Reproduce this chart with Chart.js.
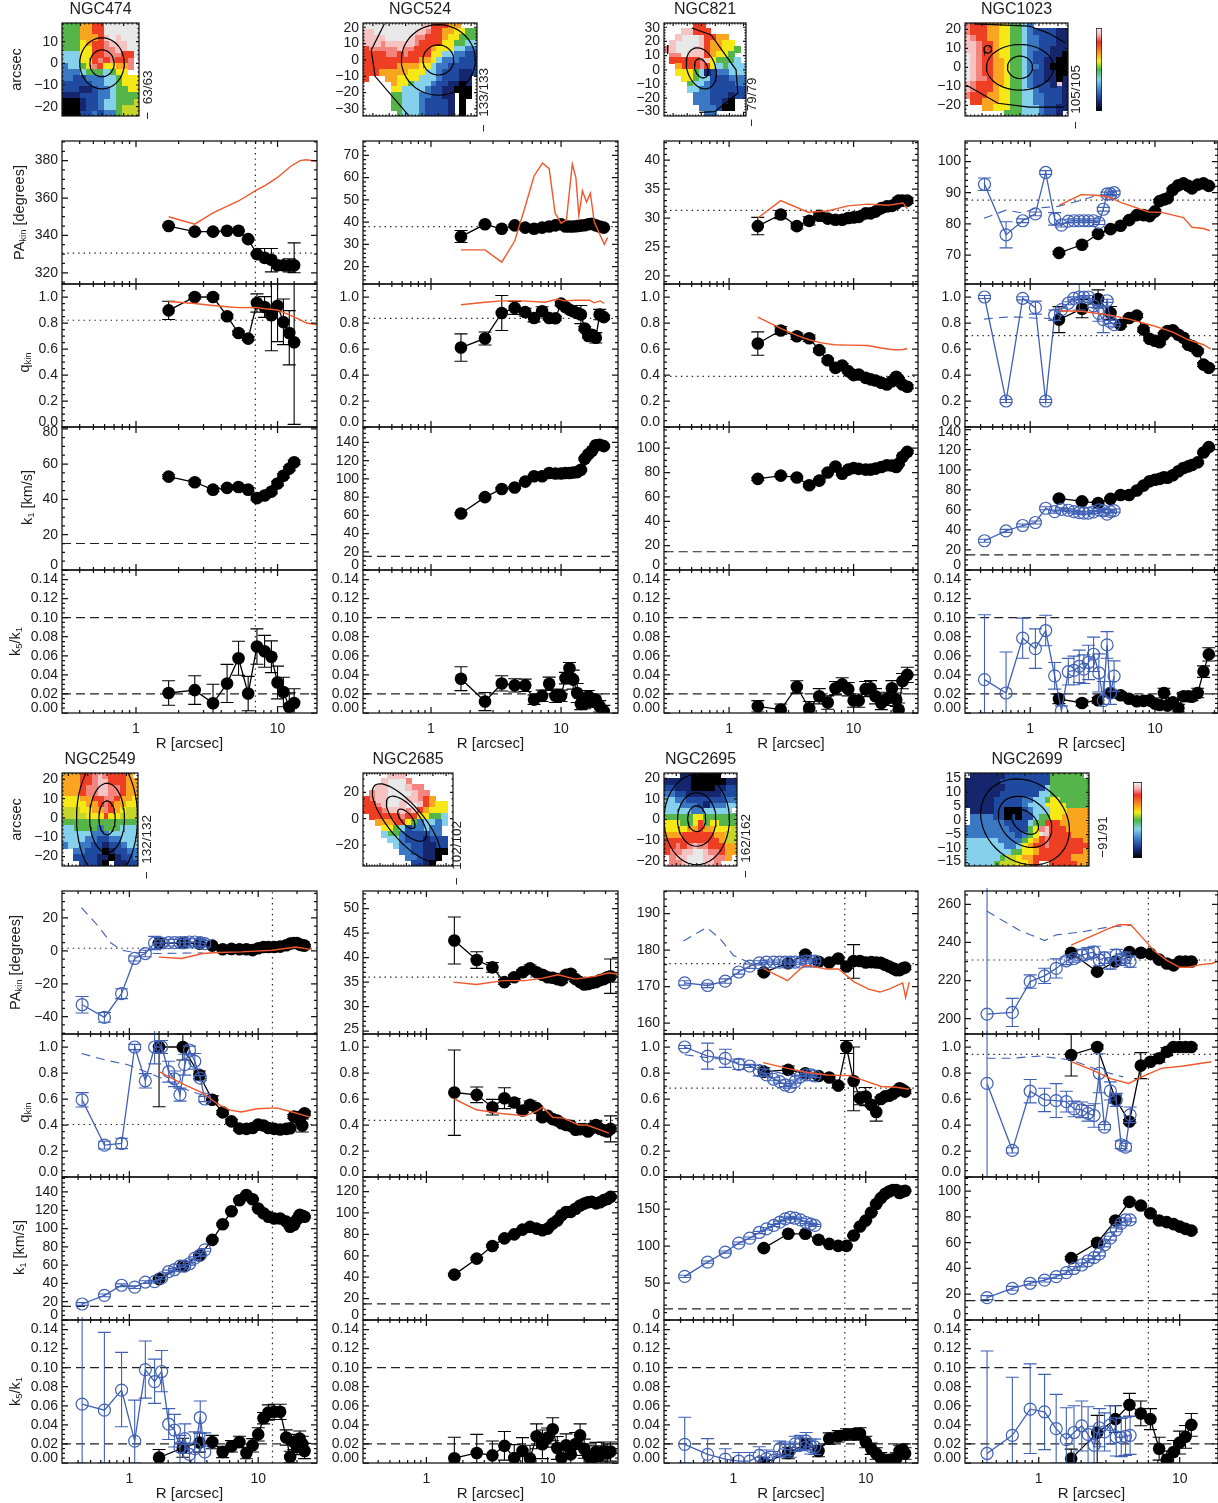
<!DOCTYPE html>
<html><head><meta charset="utf-8">
<style>html,body{margin:0;padding:0;background:#fff}#wrap{position:relative;width:1218px;height:1503px;overflow:hidden;background:#fff}canvas{position:absolute}</style>
<script src="https://cdn.jsdelivr.net/npm/chart.js@4"></script>
</head><body><div id="wrap"></div>
<script>
// ---------- radii ----------
const R474=[1.7,2.6,3.5,4.4,5.3,6.2,7.15,8.1,9.05,10,11,12.1,13.1];
const R524=[1.7,2.6,3.5,4.4,5.3,6.2,7.15,8.1,9.05,10,10.8,11.6,12.4,13.3,14.2,15.2,16.2,17.3,18.5,19.8,21.3];
const R821=[1.7,2.6,3.5,4.4,5.3,6.2,7.15,8.1,9.05,10,11,12.5,13.7,15,16.7,18.5,20.3,22,23,24.7,27];
const R1023=[1.7,2.6,3.5,4.4,5.3,6.2,7.15,8.1,9.05,10,10.9,11.8,12.6,13.9,15.4,16.9,18.5,19.8,22,24.5,27];
const O1023=[.43,.64,.87,1.1,1.33,1.57,1.78,2.02,2.24,2.47,2.69,2.93,3.22,3.55,3.85,4.13,4.4,4.7];
const R2549=[1.7,2.6,3.5,4.4,5.3,6.2,7.15,8.1,9.05,10,11,12,13.3,14.8,16.5,17.7,18.9,20,21,22,22.9];
const O2549=[.43,.64,.87,1.1,1.33,1.57,1.78,2.02,2.24,2.47,2.69,2.93,3.22,3.55,3.85];
const R2685=[1.7,2.6,3.5,4.4,5.3,6.2,7.15,8.1,9.05,10,11,12,13,14.2,15.5,17,18.5,20,21.5,23,25,27,29,31,33];
const R2695=[1.7,2.6,3.5,4.4,5.3,6.2,7.15,8.1,9.05,10,11,12,13,14,15,16,17,18,19,19.8];
const O2695=[.43,.64,.87,1.1,1.33,1.57,1.78,2.02,2.24,2.47,2.69,2.93,3.22,3.55,3.85,4.13];
const R2699=[1.7,2.6,3.5,4.4,5.3,6.2,7.15,8.1,9.05,10,11,12.1];
const O2699=[.43,.65,.87,1.1,1.33,1.57,1.78,2.02,2.24,2.47,2.69,2.93,3.22,3.55,3.85,4.13,4.45];

// ---------- NGC474 ----------
const PA474=[345,342,342,342.5,342.5,338,330,328,327,324,324,324,324];
const PA474e={7:[327,333],8:[320.5,333],11:[320.5,327.5],12:[320,336]};
const Q474=[.897,1,1,.852,.723,.68,.954,.923,.86,.932,.807,.723,.652];
const Q474e={0:.07,6:.07,7:.08,8:[.586,1.13],9:[.657,1.2],10:[.634,.985],11:[.478,.895],12:[.02,1.2]};
const K474=[52.9,49.7,45.5,46.5,47,45.5,40.7,42.2,44.4,49,53.4,57.4,61];
const F474=[.021,.024,.0102,.031,.0574,.0204,.0697,.0647,.059,.032,.022,.0063,.0105];
const F474e=[.0128,.015,.02,.02,.0178,.018,.0185,.0167,.0167,.0172,.0155,.015,.015];
const PA474fitR=[1.7,2.6,3.5,5.3,7,8.3,10,12.4,14.4,15.9,19];
const PA474fit=[350,346,352,358.4,364,367,371,377,380,380.5,379.7];
const Q474fitR=[1.7,2.6,3.5,4.4,5.3,7,8.1,10,12,14.4,16,19];
const Q474fit=[.965,.95,.935,.925,.918,.92,.91,.90,.865,.826,.80,.787];

// ---------- NGC524 ----------
const PA524=[33.5,39,37,38.5,37.5,37,37.5,38,38.5,39,38,38,38,38.2,38.4,38.6,39,39.2,38.5,38,37.5];
const PA524e={0:2.7};
const Q524=[.611,.681,.877,.916,.884,.839,.89,.839,.836,.949,.923,.903,.89,.877,.865,.758,.70,.71,.686,.865,.845];
const Q524e={0:.105,1:.05,2:.135,3:.05,4:.03,5:.03,6:.035,14:.07,18:.04,19:.04};
const K524=[62,80,89,90.5,97,103,103,106.5,106,106,106.5,106.5,107,107.5,110,122,127,131,137,137.5,136];
const F524=[.036,.012,.031,.029,.029,.014,.018,.0306,.018,.018,.0366,.047,.035,.021,.0095,.0105,.0176,.012,.014,.007,.002];
const F524e=[.0125,.0095,.008,.007,.0065,.005,.006,.007,.007,.006,.006,.006,.01,.01,.006,.006,.006,.006,.006,.006,.006];
const PA524fitR=[1.7,2.6,3.5,4.4,5.3,6.2,7.2,8.1,9,10,11,12.2,13,13.7,14.6,15.7,16.8,18,21.5,22.8];
const PA524fit=[27.5,27.5,22,31.5,47,60.7,66.5,64,44,39.5,41,66,60,43,54,49,53,40,30,33];
const Q524fitR=[1.7,2.6,3.5,5,7.5,9.5,10.5,13,16.5,18,20,21.5];
const Q524fit=[.94,.96,.97,.97,.96,.985,.97,.975,.975,.955,.97,.95];

// ---------- NGC821 ----------
const PA821=[28.6,30.6,28.6,29.5,30.4,29.9,29.7,29.7,30,30.1,30.2,30.8,30.8,31.1,31.7,32,32.1,32.5,33,33,33];
const PA821e={0:1.5,1:.7,2:.5,3:.7,4:.5};
const Q821=[.642,.742,.698,.683,.591,.514,.455,.473,.43,.399,.404,.378,.366,.358,.34,.327,.352,.386,.366,.327,.31];
const Q821e={0:.09,1:.03,2:.025,3:.025};
const K821=[74.8,77.5,76,69.6,73.4,80,85,79,82.4,83.7,83,82.4,82.4,83.2,84.5,86,85.7,84.5,87.3,93,97];
const F821=[.007,.0035,.0274,.005,.0176,.011,.026,.03,.025,.013,.013,.025,.026,.0176,.0105,.0148,.026,.014,.0035,.0334,.04];
const F821e=[.006,.006,.0065,.007,.008,.007,.007,.007,.007,.007,.007,.008,.008,.008,.007,.007,.008,.007,.007,.008,.008];
const PA821fitR=[1.7,2.6,4.3,6.2,9,13,19,25,27];
const PA821fit=[30,33,31,31.2,32.1,32.4,32.2,32.6,31.6];
const Q821fitR=[1.7,2.6,3.5,4.4,5.5,7,9,13,16.5,21,25,27];
const Q821fit=[.845,.758,.705,.671,.647,.633,.63,.627,.608,.594,.596,.604];

// ---------- NGC1023 ----------
const PA1023=[70.7,73.3,76.8,78.3,79.4,81.2,82.8,82.8,82.5,84,87.3,87.8,88.2,90.9,92.4,93,92.2,91.4,92.6,93,92.2];
const PA1023o=[92.7,76.5,81,83.2,96.5,81.6,79.6,80.9,81,81,81,81,81,80.4,84.7,89.6,89.6,90];
const PA1023oe={0:2,1:4.2,5:2};
const Q1023=[.826,.91,.985,.877,.787,.839,.857,.749,.678,.664,.652,.71,.739,.744,.71,.686,.633,.623,.584,.48,.455];
const Q1023e={0:.1,1:.07,2:.07,3:.05};
const Q1023o=[1,.2,.99,.918,.2,.86,.903,.952,.99,1,1,1,.932,.874,.826,.971,.807,.787];
const Q1023oe={3:.05,5:.04,9:.1,13:.06,14:.1};
const K1023=[71.4,68.5,66.8,71,74.8,74.8,79.4,84.3,88.6,90,90.9,92.6,92,94.6,98.6,101.8,103.4,104.8,107.4,117.3,122.6];
const K1023o=[29.2,39,44.4,47.4,61.6,58.3,60.5,59.6,58.3,57.3,56.7,56.7,58,60,59,55.7,58.3,59.3];
const F1023=[.0148,.0105,.0134,.021,.0186,.015,.0123,.0127,.0134,.0098,.0084,.021,.0077,.0113,.005,.0176,.0176,.017,.021,.0434,.0615];
const F1023e=[.005,.003,.003,.003,.003,.002,.002,.002,.002,.003,.003,.005,.003,.003,.004,.004,.004,.004,.005,.006,.007];
const F1023o=[.035,.021,.0785,.0675,.0865,.039,.0025,.0433,.0447,.049,.046,.053,.0616,.042,.013,.0714,.021,.0387];
const F1023oe=[[0,.103],[0,.064],.021,.0207,.016,.014,.005,.014,.015,.017,.015,.018,.018,.02,.02,.014,.012,.016];
const PA1023fitR=[1.7,2.56,3.45,4.4,5.3,8.9,11.3,16.9,19.8,24.5,27.5];
const PA1023fit=[85.9,89.4,89.2,88.4,86.9,83.8,83.7,82,78.9,78.5,77.8];
const PA1023dashR=[.425,.64,.87,1.1,1.33,1.57,1.7,2.56,3.45,4.7];
const PA1023dash=[81.8,84.4,83.5,85,85.3,85.5,85.7,87.6,89.2,89.7];
const Q1023fitR=[1.7,2.56,4.4,6.2,10,13.9,18.5,24.5,28];
const Q1023fit=[.894,.89,.86,.83,.775,.73,.671,.633,.60];
const Q1023dashR=[.425,.64,.87,1.1,1.33,1.57];
const Q1023dash=[.83,.845,.845,.836,.836,.826];

// ---------- NGC2549 ----------
const PA2549=[4.8,4.8,4.4,3.2,1,1.2,1,1,.5,1.6,2.4,2.4,2.4,2.6,3.4,4.4,4.8,4.8,3.8,3.4,3.2];
const PA2549o=[-32.7,-40.4,-26,-4.6,-1.6,4.8,4.8,5,5,5,5,5.4,5.4,5,4.4];
const PA2549oe=[5,3,3,1.5,2,4,2,2,2,2,2,2,2,2,2];
const Q2549=[1,1,.785,.594,.497,.428,.372,.37,.377,.404,.396,.377,.37,.365,.37,.375,.465,.46,.44,.396,.49];
const Q2549e={0:[.54,1.2],1:.1,2:.03,3:.03,19:.05};
const Q2549o=[.594,.245,.258,1,.74,1,1,.81,.755,.634,.864,.977,.89,.76,.60];
const Q2549oe=[.055,.03,.04,.02,.055,.13,.05,.08,.06,.05,.08,.03,.06,.02,.02];
const K2549=[44.7,59,70.5,87.6,104.7,119,131,136.7,132,122,116.7,113,111,111,107.6,102,104,110,115,114,113];
const K2549o=[17.5,27,38,36,41.5,42,46,53,55,59,59,61.5,67.6,71,76.7];
const F2549=[.0056,.016,.0214,.022,.0116,.0175,.022,.0105,.0186,.03,.047,.053,.0537,.0537,.0267,.0063,.022,.0168,.0256,.02,.0126];
const F2549e=[.0085,.01,.01,.007,.006,.006,.006,.006,.007,.007,.006,.008,.008,.008,.008,.006,.008,.008,.008,.008,.008];
const F2549o=[.0618,.0554,.0765,.023,.098,.0853,.096,.0407,.0344,.0168,.0256,.009,.015,.0477,.0116];
const F2549oe=[[0,.2],[0,.137],[.038,.116],[0,.066],[.068,.128],[.0625,.109],[.0747,.118],[.0246,.057],[.0168,.051],[0,.029],[.01,.041],.012,[0,.0326],[.031,.065],.02];
const PA2549fitR=[1.69,2.54,3.7,4.9,7.4,12.9,19.6,25.9];
const PA2549fit=[-3.8,-4.6,-1.6,-1,-.6,.4,2.4,.8];
const PA2549dashR=[.425,.565,.72,.876,.99,1.6,3.7];
const PA2549dash=[26.3,15.6,4.8,.4,-.4,-1.6,-1.2];
const Q2549fitR=[1.69,2.54,3.7,4.9,6.02,7.4,9.8,13.9,18.3,25];
const Q2549fit=[.813,.72,.647,.558,.514,.50,.525,.532,.50,.463];
const Q2549dashR=[.425,.65,.96,1.34,1.78,2.6,3.7];
const Q2549dash=[.95,.9,.865,.81,.76,.68,.63];

// ---------- NGC2685 ----------
const PA2685=[43.5,39.5,38,35,36,37,37.8,37,36.5,36,35.9,35.6,35.4,36.5,36.7,35.6,35,34.5,34.6,34.8,35,35.4,35.6,36,36.2];
const PA2685e={0:4.8,1:1.7,2:1,6:.7,24:3.5};
const Q2685=[.65,.632,.537,.606,.573,.511,.555,.53,.46,.47,.445,.435,.414,.40,.394,.363,.368,.368,.35,.375,.40,.37,.36,.35,.37];
const Q2685e={0:[.32,.977],1:.06,2:.06,3:.08,4:.03,6:.03,20:.03,24:.1};
const K2685=[42.4,57.3,69.2,76.3,80,84.4,87,85.4,83.9,85.4,90,93,97.8,100.9,101,104,107,108.7,110,110.5,109,110,112,113,115];
const F2685=[.005,.0105,.008,.018,.0053,.0126,.0046,.028,.0196,.0267,.0354,.0158,.0053,.0186,.009,.02,.029,.015,.008,.001,.0116,.008,.012,.01,.012];
const F2685e=[[0,.027],[0,.03],.015,.015,.014,.014,.014,.013,.015,.01,.012,.012,.012,.012,.012,.012,.012,.01,.01,.01,.01,.01,.01,.01,.01];
const PA2685fitR=[1.67,2.58,4.33,6.5,9.1,12.2,17,24.6,32,38];
const PA2685fit=[35,34.5,35.3,35.3,35.8,36.5,35.6,36.2,36.9,36.6];
const Q2685fitR=[1.7,2.58,4.33,6.5,8,9.1,11,13.5,18,21,32];
const Q2685fit=[.6,.517,.486,.47,.504,.537,.46,.453,.40,.40,.337];

// ---------- NGC2695 ----------
const PA2695=[173.9,176.4,178.8,176.8,176.6,177.7,175.5,177,177,176.6,176.7,176.6,176.5,176,175.5,175,174.5,174.5,175,175.2];
const PA2695e={7:[172.3,181.5]};
const PA2695o=[171,170.3,171.5,174,175.6,176.5,176.7,176.7,176.7,176.7,176.7,176.7,176.7,177,177,177];
const Q2695=[.81,.824,.798,.777,.765,.703,1,.739,.606,.619,.555,.50,.60,.62,.625,.64,.66,.683,.67,.657];
const Q2695e={0:.03,1:.03,6:.05,7:[.51,1],8:.05,9:.07,11:.07};
const Q2695o=[1,.93,.913,.867,.854,.818,.785,.752,.734,.708,.696,.734,.772,.785,.785,.777];
const Q2695oe={1:.1,2:.07,3:.04,5:.04};
const K2695=[97.3,116.7,116.7,108.6,103,100.4,100.4,114.4,126.6,134.7,145.5,157,165,170.7,174,176,176,172,174,175];
const K2695o=[59,78.4,92,104,110.8,118.5,123.4,128,132.4,137,139,137.8,135.6,132,129.7,128];
const F2695=[0,.0105,.02,.0126,.0256,.028,.03,.03,.031,.022,.015,.01,.005,.003,.002,.003,.0046,.0126,.014,.01];
const F2695o=[.0196,.009,.004,.002,.002,.008,.0046,.003,.015,.014,.014,.02,.021,.023,.0175,.017];
const F2695oe=[[0,.048],[0,.0256],.011,.009,.009,.009,.009,.009,.008,.008,.008,.008,.008,.009,.008,.008];
const PA2695fitR=[1.68,2.57,3.45,5.1,6.24,8.17,10.5,12.8,15,19,20,21.3];
const PA2695fit=[175,171.6,175.9,174.8,174.8,171.3,169.3,168.5,169.3,171,167,171.2];
const PA2695dashR=[.42,.63,.8,1,1.33,1.7,3];
const PA2695dash=[182.5,186.2,183,178.6,176.5,176,176.3];
const Q2695fitR=[1.68,2.57,3.4,5.1,7.6,9.4,13.1,17.1,21.3];
const Q2695fit=[.88,.836,.81,.785,.78,.747,.696,.69,.675];
const Q2695dashR=[.43,.9,1.7,3];
const Q2695dash=[.94,.9,.83,.77];

// ---------- NGC2699 ----------
const PA2699=[234.6,224.7,230,235,234.6,234,231,229,228,230,230,230];
const PA2699o=[202.4,203.3,219.5,222.5,226.4,230.4,231.6,233.4,234.3,235,230.8,232,229,233.4,231,232,230];
const PA2699oe=[[150,300],7.4,3.5,4,5,2,2,3,3,3,3,3,3,3,3,3,3];
const Q2699=[.939,1,.6,.427,.857,.887,.913,.964,1,1,1,1];
const Q2699e={0:[.777,1.1],2:.03,4:.1,6:.03,7:.03};
const Q2699o=[.72,.205,.66,.593,.588,.58,.524,.517,.49,.473,.798,.384,.662,.593,.248,.23,.478];
const Q2699oe=[[0,1.3],.02,.09,.09,.13,.08,.06,.06,.06,.09,.15,.02,.07,.05,.03,.03,.06];
const K2699=[48,60,77.2,91.7,88.9,82.9,77.2,76,74.4,72.5,70.7,69.4];
const K2699o=[17.4,24.6,28.5,31,33.7,36.8,40,42.7,46,48.4,51.3,58.3,63.5,70,75,77.7,77.7];
const F2699=[.0046,.0316,.046,.061,.052,.046,.015,.0035,.0116,.0214,.0274,.04];
const F2699e=[.01,[0,.05],.014,.012,.013,.011,.012,.009,.012,.012,.012,.012];
const F2699o=[.01,.029,.0565,.0537,.036,.0245,.032,.039,.03,.0186,.037,.0326,.04,.0274,.0267,.028,.029];
const F2699oe=[[0,.1175],[0,.09],[.01,.104],[.014,.093],[0,.072],[0,.058],[0,.06],[.0126,.065],[0,.059],.02,.02,.02,.02,.02,.02,.02,.02];
const PA2699fitR=[1.7,3.07,3.7,4.5,5.4,6.55,8.1,10,11.6,14,17,18.7];
const PA2699fit=[238.6,247,249.3,249.3,242.8,235.8,230.6,227,227,228.4,229,230.4];
const PA2699dashR=[.427,.73,1.1,1.33,2.02,3.07,4.5];
const PA2699dash=[256.5,246.4,241,244,245.5,248,249];
const Q2699fitR=[1.7,2.39,3.27,4.35,5.43,7.4,10.6,16.8];
const Q2699fit=[.887,.824,.755,.72,.772,.836,.854,.887];
const Q2699dashR=[.427,.64,1,1.7,2.7,3.97];
const Q2699dash=[.913,.913,.93,.90,.82,.77];

// ---------- velocity-field cells (one symbol per cell) ----------
const MAPCOLORS={'0':'#000000','1':'#16266e','2':'#1f4aa0','3':'#3b78c4','4':'#85d0ea','5':'#55b54a','6':'#c6d52a','7':'#f6e816','8':'#f9a51f','9':'#ee3f25','a':'#f2857d','b':'#f6c3c3','c':'#e8e8e8'};
const MAP474=["5558899cccccc","5558899cccccc","5558889bcbccc","5557899abbbcc","5557799aabbcc","4447799aaa99c","444779a9a99a.","34457a97788a.","33345554577..","3322333445777","2222233445777","2221123345577","1112223345555","0001223445556","0001223445666","0002232335666"];
const MAP524=["ccccccccccbb99988...","bbcccccccbba99887755","bbbbccccbaa999877555","bbbabbbbba9999775544","9aaaaabaa99987774433","9999aa9a999977443322","99999999998874333222","99999988887743322222","99988888777443222112","9...887777444322211.",".....87754443221101.",".....77444432211000.",".....55444332211.00.",".....55444322221.0..",".....55444322221.0..","......5444322221.0.."];
const MAP821=[".....99.......","...bb999......","..bcccb9988...",".bccccb98877..","abcccbb988775.",".aacbbb98775..",".99999ab75554.","..8999a9745444","..777541233444","...77544222333","....5443222233","....4433222222",".....333222122",".....3332210..","......333200..",".......33....."];
const MAP1023=["a99988775543......","a99988775543222211","ba9988775543322211","bba998775543322211","bba998775543322111","cba998775543222110","cba998875543221100","cba998875543321000","cba998875543221100","cbaa98875543221101","ba99988755432221b1","ba9998775544322221","a99988775544332221",".99888775544332221","...887775544432211",".......5554443221"];
const MAP2549=["88899aba9998.","88899abb99988","8889aabbaa988","8889aabbaa988","7778899aa9887","7777889a98877","6667788a98766","6666777977666","5555555555555","4455553555444","4444433344444","4444332233444","3443322122344","..33222012233","..22221101223","...22210.1122"];
const MAP2685=["....bbb........","...bccca.......","..bbcccbaa.....",".abbccccbaa....","9abbcccbba98...","99abccbccb9877.","999abbbab98777.",".99999a9977554.","..888997534434.","...7754233433..","...4553222233..","....4432221222.",".....433221122.","......33221100.",".......332110..","........2210..."];
const MAP2695=["...1100000...","1111100000011","2211100001122","3322111111222","4433222222233","4443332133344","444443344444.","5555577555555","7775579577555","7777889887776","8889999998866","9999999999866","99a9abaa99988","9aabbccbaa988",".abbcccbbaa8.",".aabcccbba..."];
const MAP2699=[".11111122222222555555.","1111112222222225555555","1111111222222245555555","1111112222222445555555","1111122222334457755555","1111122222344477775555",".111122000234447778888",".333322020224557788888",".333333222245599988888","3333333322257ab9998888","3333333332357cb9999888","44444433335789a9999998","44444443347899a9999999","4444444455778999999998","4444445667889999999888","4444456667789..9999988"];
const COLORBAR_STOPS=[[0,'#f4f0f0'],[.08,'#f4b8b8'],[.17,'#e8312a'],[.3,'#f89820'],[.4,'#f6ec14'],[.5,'#4cb848'],[.62,'#85d0ea'],[.75,'#3a7cc8'],[.88,'#1a2a78'],[1,'#000000']];

// ---------- tick lists ----------
const QT=[0,.2,.4,.6,.8,1];
const FT=[0,.02,.04,.06,.08,.10,.12,.14];
const XT=[1,10];
const XM=[.4,.5,.6,.7,.8,.9,2,3,4,5,6,7,8,9,20,30];

const GAL=[
{name:'NGC474',col:0,grp:0,xr:[.30,19],vline:6.97,rr:R474,
 pa:PA474,pae:PA474e,par:[314,390.5],pat:[320,340,360,380],pam:5,pad:330.5,pafr:PA474fitR,paf:PA474fit,
 q:Q474,qe:Q474e,qd:.821,qfr:Q474fitR,qf:Q474fit,k:K474,kr:81,kt:[0,20,40,60,80],km:5,f:F474,fe:F474e,
 map:MAP474,mbox:[62,139],my:[18.6,-24.3],mx:[-18.5,17.1],mt:[10,0,-10,-20],mm:2,side:'−  63/63',sx:148,sy:95,
 cont:[{e:[0,0,10.3,11.8,0]},{e:[0,0,5.6,6.2,0]}]},
{name:'NGC524',col:1,grp:0,xr:[.30,27.4],rr:R524,
 pa:PA524,pae:PA524e,par:[12.2,76.4],pat:[20,30,40,50,60,70],pam:2,pad:38,pafr:PA524fitR,paf:PA524fit,
 q:Q524,qe:Q524e,qd:.836,qfr:Q524fitR,qf:Q524fit,k:K524,kr:157,kt:[0,20,40,60,80,100,120,140],km:5,f:F524,fe:F524e,
 map:MAP524,mbox:[363,477],my:[22.6,-34.3],mx:[-46,23.6],mt:[20,10,0,-10,-20,-30],mm:2,side:'−  133/133',sx:484,sy:100,
 cont:[{e:[0,0,9.4,9.2,0]},{e:[0,0,22.6,21.6,0]},{p:[[-33,22],[-41,6],[-38.6,-10],[-28,-22.5],[-18.3,-33.7]]}]},
{name:'NGC821',col:2,grp:0,xr:[.304,32.9],rr:R821,
 pa:PA821,pae:PA821e,par:[18.6,43.3],pat:[20,25,30,35,40],pam:1,pad:31.3,pafr:PA821fitR,paf:PA821fit,
 q:Q821,qe:Q821e,qd:.39,qfr:Q821fitR,qf:Q821fit,k:K821,kr:117.4,kt:[0,20,40,60,80,100],km:5,f:F821,fe:F821e,
 map:MAP821,mbox:[664,746],my:[33,-32.6],mx:[-26.5,31.8],mt:[30,20,10,0,-10,-20,-30],mm:2,side:'−  79/79',sx:752,sy:102,
 cont:[{e:[0,1,7,4.5,110]},{e:[0,1,15,10,110]},{p:[[-6.7,29.5],[7,24.6],[24.7,0],[26,-16.5],[9.7,-29.5],[-1.4,-30]]},{p:[[-23.7,17.5],[-24,11]]}]},
{name:'NGC1023',col:3,grp:0,xr:[.307,32],rr:R1023,oo:O1023,
 pa:PA1023,par:[60.7,106.6],pat:[70,80,90,100],pam:2,pad:87.6,pafr:PA1023fitR,paf:PA1023fit,pao:PA1023o,paoe:PA1023oe,padr:PA1023dashR,padd:PA1023dash,
 q:Q1023,qe:Q1023e,qo:Q1023o,qoe:Q1023oe,qd:.703,qfr:Q1023fitR,qf:Q1023fit,qdr:Q1023dashR,qdd:Q1023dash,
 k:K1023,ko:K1023o,kr:142.7,kt:[0,20,40,60,80,100,120,140],km:5,f:F1023,fe:F1023e,fo:F1023o,foe:F1023oe,
 map:MAP1023,mbox:[965,1068],my:[23.3,-25.6],mx:[-29,25.3],mt:[20,10,0,-10,-20],mm:2,side:'−  105/105',sx:1076,sy:97,
 cont:[{e:[0,0,6.6,5.9,0]},{e:[0,0,17.7,12,0]},{e:[-17,9.5,2,2,0]},{p:[[-24,22.8],[4.8,21.7],[15,18],[24,12.8]]},{p:[[-28.4,-9.3],[-11.6,-18.9],[4.8,-20.9],[23,-20.9]]}]},
{name:'NGC2549',col:0,grp:1,xr:[.30,28.6],vline:12.9,rr:R2549,oo:O2549,
 pa:PA2549,par:[-50.5,36.4],pat:[-40,-20,0,20],pam:5,pad:1.6,pafr:PA2549fitR,paf:PA2549fit,pao:PA2549o,paoe:PA2549oe,padr:PA2549dashR,padd:PA2549dash,
 q:Q2549,qe:Q2549e,qo:Q2549o,qoe:Q2549oe,qd:.404,qfr:Q2549fitR,qf:Q2549fit,qdr:Q2549dashR,qdd:Q2549dash,
 k:K2549,ko:K2549o,kr:156.4,kt:[0,20,40,60,80,100,120,140],km:5,f:F2549,fe:F2549e,fo:F2549o,foe:F2549oe,
 map:MAP2549,mbox:[62,138],my:[23.3,-24.9],mx:[-23.3,16],mt:[20,10,0,-10,-20],mm:2,side:'−  132/132',sx:147,sy:847,
 cont:[{e:[0,0,4.2,8.8,0]},{e:[0,0,9,18,0]},{e:[0,0,15.8,32,0]}]},
{name:'NGC2685',col:1,grp:1,xr:[.30,38],rr:R2685,
 pa:PA2685,pae:PA2685e,par:[24.4,53.6],pat:[25,30,35,40,45,50],pam:1,pad:36,pafr:PA2685fitR,paf:PA2685fit,
 q:Q2685,qe:Q2685e,qd:.435,qfr:Q2685fitR,qf:Q2685fit,k:K2685,kr:133.6,kt:[0,20,40,60,80,100,120],km:5,f:F2685,fe:F2685e,
 map:MAP2685,mbox:[363,453],my:[34.7,-35.9],mx:[-32.8,35.2],mt:[20,0,-20],mm:5,side:'−  102/102',sx:457,sy:853,
 cont:[{e:[0,0,9,4,-50]},{e:[0,0,21,9,-50]},{e:[0,-3,37,13,-50]}]},
{name:'NGC2695',col:2,grp:1,xr:[.30,24.8],vline:6.95,rr:R2695,oo:O2695,
 pa:PA2695,pae:PA2695e,par:[157,196.2],pat:[160,170,180,190],pam:2,pad:176.3,pafr:PA2695fitR,paf:PA2695fit,pao:PA2695o,padr:PA2695dashR,padd:PA2695dash,
 q:Q2695,qe:Q2695e,qo:Q2695o,qoe:Q2695oe,qd:.683,qfr:Q2695fitR,qf:Q2695fit,qdr:Q2695dashR,qdd:Q2695dash,
 k:K2695,ko:K2695o,kr:193.6,kt:[0,50,100,150],km:10,f:F2695,fo:F2695o,foe:F2695oe,
 map:MAP2695,mbox:[664,737],my:[22.6,-22.6],mx:[-16,19.7],mt:[20,10,0,-10,-20],mm:2,side:'−  162/162',sx:746,sy:846,
 cont:[{e:[0,.4,4.4,6.3,0]},{e:[0,0,9.4,13,0]},{e:[0,0,16,22,0]}]},
{name:'NGC2699',col:3,grp:1,xr:[.307,18.7],vline:6.0,rr:R2699,oo:O2699,
 pa:PA2699,par:[192,267],pat:[200,220,240,260],pam:5,pad:230.8,pafr:PA2699fitR,paf:PA2699fit,pao:PA2699o,paoe:PA2699oe,padr:PA2699dashR,padd:PA2699dash,
 q:Q2699,qe:Q2699e,qo:Q2699o,qoe:Q2699oe,qd:.944,qfr:Q2699fitR,qf:Q2699fit,qdr:Q2699dashR,qdd:Q2699dash,
 k:K2699,ko:K2699o,kr:111,kt:[0,20,40,60,80,100],km:5,f:F2699,fe:F2699e,fo:F2699o,foe:F2699oe,
 map:MAP2699,mbox:[965,1089],my:[16.9,-16.2],mx:[-21.4,22.8],mt:[15,10,5,0,-5,-10,-15],mm:1,side:'−91/91',sx:1103,sy:837,
 cont:[{e:[0,-.5,5.5,3.5,-40]},{e:[0,-.5,10.5,8,-40]},{e:[0,-.5,17,14,-40]}]}
];

// ---------- layout ----------
const COLS=[[62,317],[363,618],[664,918],[965,1218]];
const ROWS=[[141,284,427,570,713],[891,1034,1177,1320,1463]];
const MAPY=[[23,116],[773,866]];
const G=60, PADT=3, PADR=3, FONT='"Liberation Sans",Arial,sans-serif', INK='#1c1c1c';
const BLUE='#3f60b4', ORANGE='#f0582a';
const NOGRID={display:false,drawTicks:false,tickLength:0};
const wrap=document.getElementById('wrap');
function mkCanvas(l,t,w,h){const c=document.createElement('canvas');c.width=w;c.height=h;c.style.left=l+'px';c.style.top=t+'px';c.style.width=w+'px';c.style.height=h+'px';wrap.appendChild(c);return c;}
const zip=(xs,ys)=>xs.map((x,i)=>({x,y:ys[i]}));
const sgn=v=>v<0?'−'+Math.abs(v):String(v);
const noPad=s=>{s.paddingTop=0;s.paddingBottom=0;s.paddingLeft=0;s.paddingRight=0;};

function tickList(majors,minorStep,lo,hi){
  const out=majors.map(value=>({value,major:true}));
  if(minorStep){const n0=Math.ceil(lo/minorStep),n1=Math.floor(hi/minorStep);
    for(let n=n0;n<=n1;n++){const v=Math.round(n*minorStep*1e6)/1e6;if(!majors.some(m=>Math.abs(m-v)<1e-6))out.push({value:v,major:false});}}
  return out.sort((a,b)=>a.value-b.value);
}
const framePlugin={id:'frame',
  beforeDraw(chart){ // tick labels at the panel edges stay inside the panel
    const y=chart.scales.y,a=chart.chartArea;
    if(y&&y.options.ticks.display){y.getLabelItems().forEach(it=>{const t=it.options.translation;t[1]=Math.min(a.bottom-4.5,Math.max(a.top+5,t[1]));});}
  },
  afterDatasetsDraw(chart){
    const c=chart.ctx,a=chart.chartArea,o=chart.options.plugins.frame||{};
    c.save();c.strokeStyle='#111';c.lineWidth=o.lw||1.25;
    c.beginPath();
    const X=chart.scales.x,Y=chart.scales.y,mj=o.major||6,mn=o.minor||3;
    X.ticks.forEach(t=>{const p=X.getPixelForValue(t.value),l=t.major?mj:mn;if(p<a.left||p>a.right)return;c.moveTo(p,a.bottom);c.lineTo(p,a.bottom-l);c.moveTo(p,a.top);c.lineTo(p,a.top+l);});
    Y.ticks.forEach(t=>{const p=Y.getPixelForValue(t.value),l=t.major?mj:mn;if(p<a.top||p>a.bottom)return;c.moveTo(a.left,p);c.lineTo(a.left+l,p);c.moveTo(a.right,p);c.lineTo(a.right-l,p);});
    c.stroke();c.strokeRect(a.left,a.top,a.right-a.left,a.bottom-a.top);
    c.restore();
    if(o.ylabel){const parts=o.ylabel,big='14.5px '+FONT,small='9.5px '+FONT;c.save();c.fillStyle=INK;
      c.translate(o.lx,(a.top+a.bottom)/2+(o.dy||0));c.rotate(-Math.PI/2);c.textBaseline='middle';
      let w=0;parts.forEach(p=>{c.font=p[1]?small:big;w+=c.measureText(p[0]).width;});
      let x=-w/2;parts.forEach(p=>{c.font=p[1]?small:big;c.fillText(p[0],x,p[1]?3.5:0);x+=c.measureText(p[0]).width;});c.restore();}
    if(o.side){c.save();c.fillStyle=INK;c.font='13.5px '+FONT;c.textAlign='center';c.textBaseline='middle';c.translate(o.sx,o.sy);c.rotate(-Math.PI/2);c.fillText(o.side,0,0);c.restore();}
  }
};
const errPlugin={id:'errs',
  beforeDatasetDraw(chart,args){
    const ds=chart.data.datasets[args.index];if(!ds.errVals)return;
    const c=chart.ctx,a=chart.chartArea,X=chart.scales.x,Y=chart.scales.y;
    c.save();c.beginPath();c.rect(a.left,a.top-3,a.right-a.left,a.bottom-a.top+3);c.clip();
    c.strokeStyle=ds.borderColor;c.lineWidth=1.1;c.beginPath();
    ds.data.forEach((p,i)=>{
      let e=ds.errVals[i];if(e===undefined||e===null)e=ds.errDef;
      const lo=Array.isArray(e)?e[0]:p.y-e,hi=Array.isArray(e)?e[1]:p.y+e;
      const px=X.getPixelForValue(p.x),y0=Y.getPixelForValue(lo),y1=Y.getPixelForValue(hi);
      c.moveTo(px,y0);c.lineTo(px,y1);c.moveTo(px-6.5,y0);c.lineTo(px+6.5,y0);c.moveTo(px-6.5,y1);c.lineTo(px+6.5,y1);
    });
    c.stroke();c.restore();
  }
};
function blackDs(xs,ys,errs,def){return {data:zip(xs,ys),showLine:true,borderColor:'#000',backgroundColor:'#000',borderWidth:1.3,pointRadius:6.3,pointBackgroundColor:'#000',pointBorderColor:'#000',pointBorderWidth:0,errVals:errs||{},errDef:def,order:4};}
function blueDs(xs,ys,errs,def){return {data:zip(xs,ys),showLine:true,borderColor:BLUE,backgroundColor:'rgba(0,0,0,0)',borderWidth:1.3,pointRadius:6,pointBackgroundColor:'rgba(0,0,0,0)',pointBorderColor:BLUE,pointBorderWidth:1.2,errVals:errs||{},errDef:def,order:3};}
function curveDs(xs,ys,color,dash,order){return {data:zip(xs,ys),showLine:true,borderColor:color,borderWidth:dash?1.1:1.4,borderDash:dash||[],pointRadius:0,order};}
function refDs(x0,x1,y0,y1,dash,color){return {data:[{x:x0,y:y0},{x:x1,y:y1}],showLine:true,borderColor:color||'#222',borderWidth:1.2,borderDash:dash,pointRadius:0,order:6};}
const DOT=[1.4,4], DASH=[9,5];

function panel(g,kind,i){
  const [L,Rt]=COLS[g.col],rows=ROWS[g.grp],top=rows[i],bot=rows[i+1],last=i===3;
  let range,majors,minor,fmt,ds=[],label,lx,dy=0;
  const R=g.rr,O=g.oo;
  const v=g.vline;
  if(kind==='pa'){range=g.par;majors=g.pat;minor=g.pam;fmt=sgn;
    ds.push(refDs(g.xr[0],g.xr[1],g.pad,g.pad,DOT));
    ds.push(blackDs(R,g.pa,g.pae,.5));
    if(O)ds.push(blueDs(O,g.pao,g.paoe,.6));
    if(g.padr)ds.push(curveDs(g.padr,g.padd,BLUE,[9,6],2));
    ds.push(curveDs(g.pafr,g.paf,ORANGE,null,1));
    label=[['PA'],['kin',1],[' [degrees]']];lx=g.grp?16:19.5;
  }else if(kind==='q'){range=[0,1.1];majors=QT;minor=.05;fmt=x=>x.toFixed(1);
    ds.push(refDs(g.xr[0],g.xr[1],g.qd,g.qd,DOT));
    ds.push(blackDs(R,g.q,g.qe,.015));
    if(O)ds.push(blueDs(O,g.qo,g.qoe,.012));
    if(g.qdr)ds.push(curveDs(g.qdr,g.qdd,BLUE,[9,6],2));
    ds.push(curveDs(g.qfr,g.qf,ORANGE,null,1));
    label=[['q'],['kin',1]];lx=25;dy=7;
  }else if(kind==='k'){range=[0,g.kr];majors=g.kt;minor=g.km;fmt=String;
    ds.push(refDs(g.xr[0],g.xr[1],15,15,DASH));
    ds.push(blackDs(R,g.k,{},1.2));
    if(O)ds.push(blueDs(O,g.ko,{},1.5));
    label=[['k'],['1',1],[' [km/s]']];lx=g.grp?20:28;dy=-1;
  }else{range=[0,.15];majors=FT;minor=.005;fmt=x=>x.toFixed(2);
    ds.push(refDs(g.xr[0],g.xr[1],.02,.02,DASH));
    ds.push(refDs(g.xr[0],g.xr[1],.10,.10,DASH));
    ds.push(blackDs(R,g.f,g.fe||{},.006));
    if(O)ds.push(blueDs(O,g.fo,g.foe||{},.012));
    label=[['k'],['5',1],['/k'],['1',1]];lx=15.6;
  }
  if(v!==undefined)ds.push(refDs(v,v,range[0],range[1],DOT));
  const H=bot-top,W=Rt-L;
  const cv=mkCanvas(L-G,top-PADT,G+W+PADR,H+PADT+(last?48:PADT));
  const allTicks=tickList(majors,minor,range[0],range[1]);
  new Chart(cv.getContext('2d'),{type:'scatter',data:{datasets:ds},plugins:[errPlugin,framePlugin],options:{
    responsive:false,animation:false,devicePixelRatio:1,events:[],
    layout:{autoPadding:false,padding:{left:0,right:PADR,top:PADT,bottom:last?3:PADT}},
    plugins:{legend:{display:false},tooltip:{enabled:false},title:{display:false},
      frame:{ylabel:g.col===0?label:null,lx:lx-(L-G),dy}},
    scales:{
      x:{type:'logarithmic',min:g.xr[0],max:g.xr[1],grid:NOGRID,border:{display:false},
        afterBuildTicks:s=>{s.ticks=XT.map(value=>({value,major:true})).concat(XM.filter(m=>m>g.xr[0]&&m<g.xr[1]).map(value=>({value,major:false})));},
        afterFit:s=>{s.height=last?45:0;noPad(s);},
        ticks:{display:last,autoSkip:false,maxRotation:0,minRotation:0,padding:8,font:{family:FONT,size:14},color:INK,callback:val=>XT.includes(val)?String(val):''},
        title:{display:last,text:'R [arcsec]',color:INK,font:{family:FONT,size:15},padding:{top:0,bottom:4.8}}},
      y:{type:'linear',min:range[0],max:range[1],grid:NOGRID,border:{display:false},
        afterBuildTicks:s=>{s.ticks=allTicks.map(t=>({value:t.value,major:t.major}));},
        afterFit:s=>{s.width=G;noPad(s);},
        ticks:{autoSkip:false,padding:4,font:{family:FONT,size:14},color:INK,includeBounds:false,
          callback:val=>majors.some(m=>Math.abs(m-val)<1e-6)?fmt(val):''}}
    }}});
}

function contourPts(c){
  if(c.p)return c.p.map(q=>({x:q[0],y:q[1]}));
  const [cx,cy,a,b,ang]=c.e,t=ang*Math.PI/180,n=48,out=[];
  for(let k=0;k<=n;k++){const u=2*Math.PI*k/n,ex=a*Math.cos(u),ey=b*Math.sin(u);
    out.push({x:cx+ex*Math.cos(t)-ey*Math.sin(t),y:cy+ex*Math.sin(t)+ey*Math.cos(t)});}
  return out;
}
function mapPanel(g){
  const [L,Rt]=g.mbox,[top,bot]=MAPY[g.grp],W=Rt-L,H=bot-top;
  const nr=g.map.length,nc=Math.max(...g.map.map(s=>s.length));
  const cw=Math.ceil(W/nc)+1,ch=Math.ceil(H/nr)+1;
  const groups={};
  g.map.forEach((row,r)=>{[...row].forEach((sym,c)=>{if(sym==='.')return;
    (groups[sym]=groups[sym]||[]).push({x:g.mx[0]+(c+.5)*(g.mx[1]-g.mx[0])/nc,y:g.my[0]+(r+.5)*(g.my[1]-g.my[0])/nr});});});
  const ds=Object.keys(groups).map(sym=>{
    const im=document.createElement('canvas');im.width=cw;im.height=ch;const ic=im.getContext('2d');ic.fillStyle=MAPCOLORS[sym];ic.fillRect(0,0,cw,ch);
    return {data:groups[sym],pointStyle:im,pointRadius:1,showLine:false,order:5};});
  g.cont.forEach(c=>ds.push({data:contourPts(c),showLine:true,borderColor:'#000',borderWidth:1.2,pointRadius:0,order:1}));
  const side=Math.max(W+60,g.sx-L+16);
  const MB=24;
  const cv=mkCanvas(L-G,top-23,G+Math.ceil(side),H+23+MB);
  const mtx=g.mx,mty=[g.my[1],g.my[0]];
  const xTicks=tickList([-40,-30,-20,-10,0,10,20,30],2,mtx[0],mtx[1]).filter(t=>t.value>mtx[0]&&t.value<mtx[1]);
  const yTicks=tickList(g.mt,g.mm,mty[0],mty[1]);
  new Chart(cv.getContext('2d'),{type:'scatter',data:{datasets:ds},plugins:[framePlugin],options:{
    responsive:false,animation:false,devicePixelRatio:1,events:[],
    layout:{autoPadding:false,padding:{left:0,right:cv.width-G-W,top:0,bottom:MB}},
    plugins:{legend:{display:false},tooltip:{enabled:false},
      title:{display:true,text:g.name,color:INK,fullSize:false,font:{family:FONT,size:16,weight:'normal'},padding:{top:.4,bottom:3.4}},
      frame:{major:3,minor:1.5,lw:1.2,side:g.side,sx:g.sx-(L-G),sy:g.sy-(top-23)}},
    scales:{
      x:{type:'linear',min:mtx[0],max:mtx[1],grid:NOGRID,border:{display:false},ticks:{display:false},
        afterBuildTicks:s=>{s.ticks=xTicks.map(t=>({value:t.value,major:t.major}));},afterFit:s=>{s.height=0;noPad(s);}},
      y:{type:'linear',min:mty[0],max:mty[1],grid:NOGRID,border:{display:false},
        afterBuildTicks:s=>{s.ticks=yTicks.map(t=>({value:t.value,major:t.major}));},afterFit:s=>{s.width=G;noPad(s);},
        title:{display:g.col===0,text:'arcsec',color:INK,font:{family:FONT,size:14.5},padding:{top:6.6,bottom:0}},
        ticks:{autoSkip:false,padding:4,font:{family:FONT,size:14},color:INK,includeBounds:false,callback:val=>g.mt.includes(val)?sgn(val):''}}
    }}});
}
function colorbar(l,r,t,b){
  const cv=mkCanvas(l-1,t-1,r-l+2,b-t+2);
  new Chart(cv.getContext('2d'),{type:'bar',data:{labels:['v'],datasets:[{data:[[0,1]],barPercentage:1,categoryPercentage:1,borderColor:'#111',borderWidth:1,borderSkipped:false,
    backgroundColor:ctx=>{const a=ctx.chart.chartArea;if(!a)return '#000';const gr=ctx.chart.ctx.createLinearGradient(0,a.top,0,a.bottom);COLORBAR_STOPS.forEach(s=>gr.addColorStop(s[0],s[1]));return gr;}}]},
    options:{responsive:false,animation:false,devicePixelRatio:1,events:[],layout:{autoPadding:false,padding:1},
      plugins:{legend:{display:false},tooltip:{enabled:false}},
      scales:{x:{display:false},y:{display:false,min:0,max:1}}}});
}
GAL.forEach(g=>{mapPanel(g);['pa','q','k','f'].forEach((k,i)=>panel(g,k,i));});
colorbar(1096,1102,28,111);
colorbar(1133,1142,782,858);
</script></body></html>
